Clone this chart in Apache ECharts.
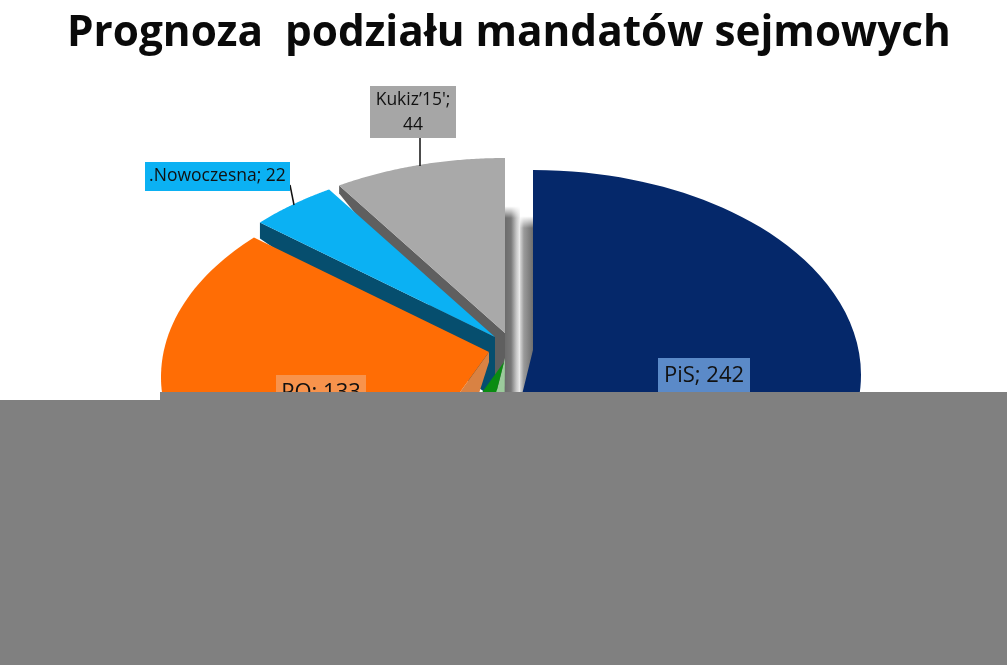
<!DOCTYPE html>
<html>
<head>
<meta charset="utf-8">
<style>html,body{margin:0;padding:0;background:#fff}#c{width:1007px;height:665px}</style>
<script src="https://cdn.jsdelivr.net/npm/echarts@6/dist/echarts.min.js"></script>
</head>
<body>
<div id="c"></div>
<script>
const categories = ['PiS', 'PSL', 'PO', '.Nowoczesna', "Kukiz’15'"];
const seats = [242, 19, 133, 22, 44];
const titleText = 'Prognoza  podziału mandatów sejmowych';

const topColors = ['#05286A', '#0A8C12', '#FF6D05', '#0BB1F3', '#A9A9A9'];
const sideColors = ['#05286A', '#9CCB9C', '#D98243', '#064E6E', '#5F5F5F'];
const apexes = [[533,350],[504,362],[489,352],[495,337],[505,333]];
const sliceRY = [205, 200, 200, 200, 200];
const layers = [10, 8, 6, 4, 2];
const total = seats.reduce((a, b) => a + b, 0);

// projection of the tilted pie: a true ellipse whose angles are skewed by the perspective
const RX = 328, SAG = 25, SKEW = 7.7;
function project(i, apex, deg) {
  const t = deg * Math.PI / 180;
  const sign = Math.cos(t) >= 0 ? -1 : 1;
  const phi = t + sign * SKEW * Math.PI / 180 * Math.sin(2 * t) * Math.abs(Math.sin(t));
  return [apex[0] + RX * Math.sin(phi), apex[1] - sliceRY[i] * Math.cos(phi) + SAG];
}
function arc(i, apex, a0, a1) {
  const pts = [], n = 80;
  for (let k = 0; k <= n; k++) pts.push(project(i, apex, a0 + (a1 - a0) * k / n));
  return pts;
}
const sideSpecs = {
  1: (ap, a0) => [[505,358], ...arc(1, [505,358], a0 - 9, a0)],
  2: (ap, a0) => [ap, ...arc(2, ap, a0, a0 - 13), [ap[0], ap[1] + 10]],
  3: (ap, a0) => { const e = project(3, ap, a0); return [ap, e, [e[0], e[1] + 16], [ap[0], ap[1] + 62]]; },
  4: (ap, a0) => { const e = project(4, ap, a0); return [ap, e, [e[0], e[1] + 8], [ap[0], ap[1] + 66]]; }
};
const labelBoxes = {
  0: {x:658, y:358, w:92, h:40, fill:'#5B8AC8', size:22, dy:-2, lines:[categories[0] + '; ' + seats[0]]},
  2: {x:276, y:375, w:90, h:40, fill:'#F8934C', size:22, dy:-2, lines:[categories[2] + '; ' + seats[2]]},
  3: {x:145, y:162, w:145, h:29, fill:'#0BB1F3', size:17.5, dy:0, lines:[categories[3] + '; ' + seats[3]], leader:[[290,185],[294,205]]},
  4: {x:370, y:86, w:86, h:52, fill:'#A6A6A6', size:17.5, dy:0, lines:[categories[4] + ';', String(seats[4])], leader:[[420,138],[420,166]]}
};

function renderSlice(params, api) {
  const i = params.dataIndex;
  const value = api.value(1);
  const before = seats.slice(0, i).reduce((a, b) => a + b, 0);
  const a0 = before / total * 360, a1 = a0 + value / total * 360;
  const apex = apexes[i], z = layers[i];
  const children = [];
  if (i === 0) {
    const LG = echarts.graphic.LinearGradient;
    const strip = (x, y, w, h, g, zz) => ({type:'rect', shape:{x, y, width:w, height:h}, z2:zz, style:{fill:g}});
    children.push(strip(505, 206, 15, 196, new LG(0,0,1,0,[{offset:0,color:'#6C6C6C'},{offset:.4,color:'#787878'},{offset:.75,color:'#C4C4C4'},{offset:1,color:'#EFEFEF'}]), 1));
    children.push(strip(520, 216, 13, 186, new LG(0,0,1,0,[{offset:0,color:'#D8D8D8'},{offset:.3,color:'#9A9A9A'},{offset:1,color:'#6E6E6E'}]), 1));
    children.push(strip(504, 205, 16, 13, new LG(0,0,0,1,[{offset:.1,color:'rgba(255,255,255,1)'},{offset:1,color:'rgba(255,255,255,0)'}]), 1.5));
    children.push(strip(520, 215, 13, 13, new LG(0,0,0,1,[{offset:.1,color:'rgba(255,255,255,1)'},{offset:1,color:'rgba(255,255,255,0)'}]), 1.5));
  }
  if (sideSpecs[i]) children.push({type:'polygon', z2:z, shape:{points:sideSpecs[i](apex, a0)}, style:{fill:sideColors[i]}});
  children.push({type:'polygon', z2:z + 1, shape:{points:[apex, ...arc(i, apex, a0, a1)]}, style:{fill:topColors[i]}});
  const b = labelBoxes[i];
  if (b) {
    children.push({type:'rect', z2:20, shape:{x:b.x, y:b.y, width:b.w, height:b.h}, style:{fill:b.fill}});
    b.lines.forEach((t, k) => children.push({type:'text', z2:21, style:{
      text:t, x:b.x + b.w / 2, y:(b.lines.length > 1 ? b.y + 2 + 25 * (k + .5) : b.y + b.h / 2) + b.dy,
      align:'center', verticalAlign:'middle', fill:'#111', font:b.size + 'px "Open Sans"'}}));
    if (b.leader) children.push({type:'line', z2:19, shape:{x1:b.leader[0][0], y1:b.leader[0][1], x2:b.leader[1][0], y2:b.leader[1][1]}, style:{stroke:'#111', lineWidth:1.5}});
  }
  return {type:'group', children};
}

const chart = echarts.init(document.getElementById('c'), null, {renderer:'canvas'});
chart.setOption({
  animation:false,
  backgroundColor:'#fff',
  title:{text:titleText, top:6, padding:0, left:67,
    textStyle:{fontFamily:'Open Sans', fontWeight:'bold', fontSize:42.3, lineHeight:56, color:'#0A0A0A'}},
  series:[{type:'custom', coordinateSystem:'none', renderItem:renderSlice, silent:true,
    data:seats.map((v, i) => [i, v])}],
  graphic:[
    {type:'rect', z:100, shape:{x:160, y:392, width:847, height:10}, style:{fill:'#808080'}},
    {type:'rect', z:100, shape:{x:0, y:400, width:1007, height:265}, style:{fill:'#808080'}}
  ]
});
</script>
</body>
</html>
